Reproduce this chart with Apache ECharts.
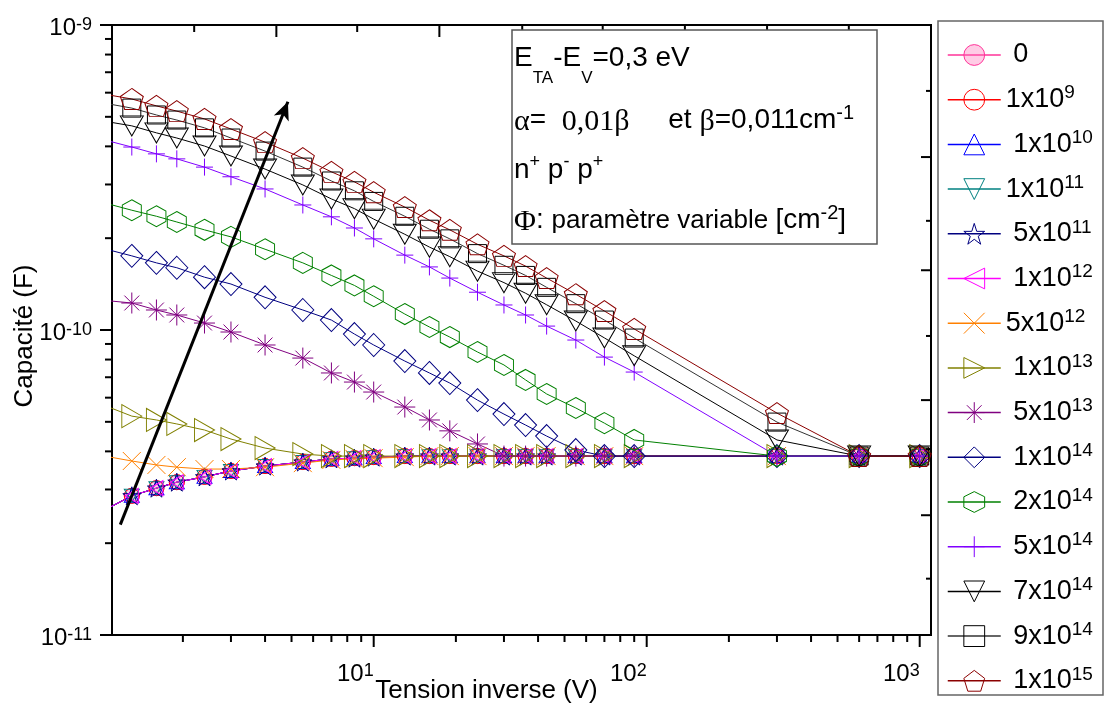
<!DOCTYPE html>
<html>
<head>
<meta charset="utf-8">
<script src="https://cdn.jsdelivr.net/npm/echarts@6.0.0/dist/echarts.min.js"></script>
<style>
html,body{margin:0;padding:0;background:#ffffff;}
#chart{width:1104px;height:707px;}
</style>
</head>
<body>
<div id="chart"></div>
<script>
// ---------------- data ----------------
// reverse voltage (V)
const voltages = [1, 1.3, 1.6, 1.9, 2.4, 3, 4, 5.5, 7, 8.5, 10, 13, 16, 19, 24, 30, 36, 43, 55, 70, 90, 300, 600, 1000];

// capacitance (F) for each fluence; low fluences (0 ... 1x10^12) overlap in the picture
const cLowFlux = [2.53e-11, 2.86e-11, 3.03e-11, 3.17e-11, 3.30e-11, 3.45e-11, 3.58e-11, 3.69e-11, 3.78e-11, 3.80e-11, 3.83e-11, 3.86e-11, 3.86e-11, 3.86e-11, 3.86e-11, 3.86e-11, 3.86e-11, 3.86e-11, 3.86e-11, 3.86e-11, 3.86e-11, 3.86e-11, 3.86e-11, 3.86e-11];
const c5e12 = [3.88e-11, 3.72e-11, 3.61e-11, 3.55e-11, 3.50e-11, 3.50e-11, 3.55e-11, 3.66e-11, 3.75e-11, 3.78e-11, 3.80e-11, 3.83e-11, 3.86e-11, 3.86e-11, 3.86e-11, 3.86e-11, 3.86e-11, 3.86e-11, 3.86e-11, 3.86e-11, 3.86e-11, 3.86e-11, 3.86e-11, 3.86e-11];
const c1e13 = [5.72e-11, 5.22e-11, 5.07e-11, 4.92e-11, 4.70e-11, 4.39e-11, 4.10e-11, 3.92e-11, 3.86e-11, 3.86e-11, 3.86e-11, 3.86e-11, 3.86e-11, 3.86e-11, 3.86e-11, 3.86e-11, 3.86e-11, 3.86e-11, 3.86e-11, 3.86e-11, 3.86e-11, 3.86e-11, 3.86e-11, 3.86e-11];
const c5e13 = [1.254e-10, 1.226e-10, 1.163e-10, 1.12e-10, 1.054e-10, 9.85e-11, 8.93e-11, 8.09e-11, 7.23e-11, 6.75e-11, 6.26e-11, 5.59e-11, 5.07e-11, 4.67e-11, 4.23e-11, 3.86e-11, 3.86e-11, 3.86e-11, 3.86e-11, 3.86e-11, 3.86e-11, 3.86e-11, 3.86e-11, 3.86e-11];
const c1e14 = [1.86e-10, 1.75e-10, 1.66e-10, 1.60e-10, 1.49e-10, 1.415e-10, 1.28e-10, 1.163e-10, 1.078e-10, 9.70e-11, 8.93e-11, 7.91e-11, 7.23e-11, 6.70e-11, 5.89e-11, 5.30e-11, 4.88e-11, 4.49e-11, 4.04e-11, 3.86e-11, 3.86e-11, 3.86e-11, 3.86e-11, 3.86e-11];
const c2e14 = [2.63e-10, 2.47e-10, 2.36e-10, 2.26e-10, 2.13e-10, 2.02e-10, 1.84e-10, 1.66e-10, 1.51e-10, 1.40e-10, 1.29e-10, 1.128e-10, 1.023e-10, 9.48e-11, 8.47e-11, 7.68e-11, 6.86e-11, 6.17e-11, 5.55e-11, 4.95e-11, 4.36e-11, 3.86e-11, 3.86e-11, 3.86e-11];
const c5e14 = [4.23e-10, 3.98e-10, 3.78e-10, 3.64e-10, 3.42e-10, 3.18e-10, 2.90e-10, 2.57e-10, 2.35e-10, 2.16e-10, 1.99e-10, 1.76e-10, 1.61e-10, 1.48e-10, 1.33e-10, 1.208e-10, 1.12e-10, 1.03e-10, 9.27e-11, 8.15e-11, 7.28e-11, 3.86e-11, 3.86e-11, 3.86e-11];
const c7e14 = [4.86e-10, 4.67e-10, 4.43e-10, 4.26e-10, 4.01e-10, 3.72e-10, 3.37e-10, 2.99e-10, 2.69e-10, 2.50e-10, 2.31e-10, 2.06e-10, 1.87e-10, 1.74e-10, 1.56e-10, 1.43e-10, 1.32e-10, 1.21e-10, 1.07e-10, 9.42e-11, 8.23e-11, 4.36e-11, 3.86e-11, 3.86e-11];
const c9e14 = [5.57e-10, 5.34e-10, 5.07e-10, 4.88e-10, 4.60e-10, 4.26e-10, 3.86e-10, 3.42e-10, 3.08e-10, 2.86e-10, 2.64e-10, 2.36e-10, 2.14e-10, 1.99e-10, 1.78e-10, 1.63e-10, 1.51e-10, 1.38e-10, 1.22e-10, 1.078e-10, 9.41e-11, 4.99e-11, 3.86e-11, 3.86e-11];
const c1e15 = [5.96e-10, 5.72e-10, 5.43e-10, 5.22e-10, 4.92e-10, 4.56e-10, 4.13e-10, 3.66e-10, 3.30e-10, 3.06e-10, 2.83e-10, 2.53e-10, 2.29e-10, 2.13e-10, 1.91e-10, 1.75e-10, 1.62e-10, 1.48e-10, 1.31e-10, 1.154e-10, 1.008e-10, 5.34e-11, 3.86e-11, 3.86e-11];

const seriesNames = ['0', '1x10^9', '1x10^10', '1x10^11', '5x10^11', '1x10^12', '5x10^12', '1x10^13', '5x10^13', '1x10^14', '2x10^14', '5x10^14', '7x10^14', '9x10^14', '1x10^15'];
const legendText  = [' 0', '1x10^9', ' 1x10^10', '1x10^11', ' 5x10^11', ' 1x10^12', '5x10^12', ' 1x10^13', ' 5x10^13', ' 1x10^14', ' 2x10^14', ' 5x10^14', ' 7x10^14', ' 9x10^14', ' 1x10^15'];
const seriesValues = [cLowFlux, cLowFlux, cLowFlux, cLowFlux, cLowFlux, cLowFlux, c5e12, c1e13, c5e13, c1e14, c2e14, c5e14, c7e14, c9e14, c1e15];

// axis ticks
const xMajorTicks = [10, 100, 1000];
const xMinorTicks = [2, 3, 4, 5, 6, 7, 8, 9, 20, 30, 40, 50, 60, 70, 80, 90, 200, 300, 400, 500, 600, 700, 800, 900];
const yMajorTicks = [1e-11, 1e-10, 1e-9];
const yMinorTicks = [2e-11, 3e-11, 4e-11, 5e-11, 6e-11, 7e-11, 8e-11, 9e-11, 2e-10, 3e-10, 4e-10, 5e-10, 6e-10, 7e-10, 8e-10, 9e-10];
const topTicks = [2.2, 4.4, 8.7, 17.4, 35, 69, 138, 276, 550];
const rightTicks = [6.08e-10, 3.69e-10, 2.28e-10, 1.57e-10, 9.56e-11, 5.89e-11, 4.07e-11, 2.47e-11, 1.53e-11];

// arrow annotation (data coordinates)
const arrowFrom = [1.18, 2.3e-11];
const arrowTo = [4.85, 5.6e-10];

// ---------------- styles ----------------
const FS = 'Liberation Sans, Arial, sans-serif';
const SERIF = 'Liberation Serif, Times New Roman, serif';
const SYM = {
  pentagon: 'path://M0,-1L0.951,-0.309L0.588,0.809L-0.588,0.809L-0.951,-0.309Z',
  hexagon: 'path://M0,-1L0.866,-0.5L0.866,0.5L0,1L-0.866,0.5L-0.866,-0.5Z',
  star: 'path://M0,-1L0.2245,-0.309L0.951,-0.309L0.363,0.118L0.588,0.809L0,0.382L-0.588,0.809L-0.363,0.118L-0.951,-0.309L-0.2245,-0.309Z',
  asterisk: 'path://M0,-1L0,1M-1,0L1,0M-0.707,-0.707L0.707,0.707M-0.707,0.707L0.707,-0.707',
  plus: 'path://M0,-1L0,1M-1,0L1,0',
  cross: 'path://M-1,-1L1,1M-1,1L1,-1',
  up: 'path://M0,-1L1,1L-1,1Z',
  down: 'path://M-1,-1L1,-1L0,1Z',
  left: 'path://M-1,0L1,-1L1,1Z',
  right: 'path://M1,0L-1,-1L-1,1Z'
};
const seriesStyles = [
  {color: '#FF3399', symbol: 'circle', size: 15, fill: 'rgba(255,110,180,0.35)'},
  {color: '#FF0000', symbol: 'circle', size: 15},
  {color: '#0000FF', symbol: SYM.up, size: [15, 13]},
  {color: '#008080', symbol: SYM.down, size: [15, 13]},
  {color: '#000080', symbol: SYM.star, size: 18},
  {color: '#FF00FF', symbol: SYM.left, size: [13, 15]},
  {color: '#FF8000', symbol: SYM.cross, size: 18},
  {color: '#808000', symbol: SYM.right, size: [20, 23]},
  {color: '#800080', symbol: SYM.asterisk, size: 21},
  {color: '#000080', symbol: 'diamond', size: [22, 23]},
  {color: '#008000', symbol: SYM.hexagon, size: [19, 21]},
  {color: '#8000FF', symbol: SYM.plus, size: 17},
  {color: '#000000', symbol: SYM.down, size: [23, 20]},
  {color: '#000000', line: '#333333', symbol: 'rect', size: 18},
  {color: '#8B0000', symbol: SYM.pentagon, size: [23, 21]}
];

function powLabel(v) {
  const e = Math.log10(v);
  const r = Math.round(e);
  if (Math.abs(e - r) > 1e-6) return '';
  return '{b|10}{s|' + r + '}';
}
const axisRich = {
  b: {fontSize: 24, lineHeight: 30, verticalAlign: 'top', fontFamily: FS, color: '#000'},
  s: {fontSize: 18, lineHeight: 12, verticalAlign: 'top', fontFamily: FS, color: '#000'}
};

const lineSeries = seriesNames.map(function (name, i) {
  const st = seriesStyles[i];
  return {
    name: name,
    type: 'line',
    data: voltages.map(function (v, k) { return [v, seriesValues[i][k]]; }),
    symbol: st.symbol,
    symbolSize: st.size,
    showSymbol: true,
    clip: true,
    silent: true,
    z: 3,
    lineStyle: {color: st.line || st.color, width: 1},
    itemStyle: {color: st.fill || 'transparent', borderColor: st.color, borderWidth: 1},
    emphasis: {disabled: true}
  };
});

lineSeries[lineSeries.length - 1].markLine = {
  silent: true,
  symbol: ['none', 'arrow'],
  symbolSize: [12, 18],
  label: {show: false},
  emphasis: {disabled: true},
  lineStyle: {color: '#000', width: 3, type: 'solid'},
  data: [[{coord: arrowFrom}, {coord: arrowTo}]]
};

// frame ticks: [x, y, side(0 bottom,1 left,2 top,3 right), length]
const tickData = [];
xMajorTicks.forEach(function (v) { tickData.push([v, 1e-11, 0, 12]); });
xMinorTicks.forEach(function (v) { tickData.push([v, 1e-11, 0, 7]); });
yMajorTicks.forEach(function (v) { tickData.push([1.1, v, 1, 12]); });
yMinorTicks.forEach(function (v) { tickData.push([1.1, v, 1, 7]); });
topTicks.forEach(function (v, i) { tickData.push([v, 1e-9, 2, i % 2 ? 12 : 7]); });
rightTicks.forEach(function (v, i) { tickData.push([1100, v, 3, i % 2 ? 10 : 5]); });

const tickSeries = {
  type: 'custom',
  name: 'ticks',
  silent: true,
  clip: false,
  z: 5,
  encode: {x: 0, y: 1},
  data: tickData,
  renderItem: function (params, api) {
    const p = api.coord([api.value(0), api.value(1)]);
    const side = api.value(2), len = api.value(3);
    let x2 = p[0], y2 = p[1];
    if (side === 0 || side === 2) y2 += len; else x2 -= len;
    return {type: 'line', shape: {x1: p[0], y1: p[1], x2: x2, y2: y2}, style: {stroke: '#000', lineWidth: 2}};
  }
};

const annRich = {
  b: {fontSize: 28, fontFamily: FS, lineHeight: 32, verticalAlign: 'top', padding: [3, 0, 0, 0]},
  sub: {fontSize: 17, fontFamily: FS, lineHeight: 14, verticalAlign: 'top', padding: [29, 0, 0, 0]},
  sup1: {fontSize: 20, fontFamily: FS, lineHeight: 10, verticalAlign: 'top'},
  sup3: {fontSize: 18, fontFamily: FS, lineHeight: 8, verticalAlign: 'top'},
  sup4: {fontSize: 20, fontFamily: FS, lineHeight: 6, verticalAlign: 'top'},
  g: {fontSize: 30, fontFamily: SERIF, lineHeight: 30, verticalAlign: 'top', padding: [4, 0, 0, 0]},
  sm: {fontSize: 26, fontFamily: FS, lineHeight: 30, verticalAlign: 'top', padding: [5, 0, 0, 0]}
};
function annText(y, text) {
  return {type: 'text', x: 514, y: y, z: 101, style: {text: text, rich: annRich, fill: '#000', verticalAlign: 'top', align: 'left'}};
}

const option = {
  animation: false,
  backgroundColor: '#ffffff',
  textStyle: {fontFamily: FS},
  grid: {left: 112, top: 25, right: 173, bottom: 72, show: true, borderColor: '#000', borderWidth: 2,
    backgroundColor: 'transparent', containLabel: false, outerBoundsMode: 'none'},
  xAxis: {
    type: 'log', logBase: 10, min: 1.1, max: 1100,
    axisLine: {show: false}, axisTick: {show: false}, splitLine: {show: false}, minorTick: {show: false},
    axisLabel: {formatter: powLabel, align: 'right', margin: 27, rich: axisRich, color: '#000',
      fontSize: 24, lineHeight: 30, fontFamily: FS},
    name: 'Tension inverse (V)', nameLocation: 'middle', nameGap: 43, nameMoveOverlap: false,
    nameTextStyle: {fontSize: 26, color: '#000', fontFamily: FS, padding: [0, 70, 0, 0]}
  },
  yAxis: {
    type: 'log', logBase: 10, min: 1e-11, max: 1e-9,
    axisLine: {show: false}, axisTick: {show: false}, splitLine: {show: false}, minorTick: {show: false},
    axisLabel: {formatter: powLabel, margin: 20, padding: [12, 0, 0, 0], rich: axisRich, color: '#000',
      fontSize: 24, lineHeight: 30, fontFamily: FS},
    name: 'Capacité (F)', nameLocation: 'middle', nameGap: 74, nameRotate: 90, nameMoveOverlap: false,
    nameTextStyle: {fontSize: 26, color: '#000', fontFamily: FS, padding: [0, 12, 0, 0]}
  },
  legend: {
    data: seriesNames, orient: 'vertical', left: 947, top: 39, padding: 0,
    itemGap: 12.7, itemWidth: 53, itemHeight: 26, selectedMode: false,
    formatter: function (name) { return legendText[seriesNames.indexOf(name)].replace(/\^(\d+)/, '{s|$1}'); },
    textStyle: {fontSize: 27, lineHeight: 32, color: '#000', fontFamily: FS,
      rich: {s: {fontSize: 19, lineHeight: 9, verticalAlign: 'top', fontFamily: FS, color: '#000'}}},
    itemStyle: {borderWidth: 1},
    lineStyle: {width: 1.5}
  },
  graphic: [
    {type: 'rect', z: 100, shape: {x: 512, y: 30, width: 365, height: 214}, style: {fill: '#fff', stroke: '#555', lineWidth: 1.5}},
    annText(41, '{b|E}{sub|TA}{b|-E}{sub|V}{b|=0,3 eV}'),
    annText(103, '{g|α}{b|=  }{g|0,01β}{b|     et }{g|β}{b|=0,011cm}{sup1|-1}'),
    annText(153, '{b|n}{sup3|+}{b| p}{sup3|-}{b| p}{sup3|+}'),
    annText(203, '{g|Φ}{b|: }{sm|paramètre variable }{b|[cm}{sup4|-2}{b|]}'),
    {type: 'rect', z: 100, shape: {x: 938, y: 21, width: 165, height: 674}, style: {fill: 'none', stroke: '#666', lineWidth: 1.5}}
  ],
  series: lineSeries.concat([tickSeries])
};

const chart = echarts.init(document.getElementById('chart'), null, {renderer: 'canvas'});
chart.setOption(option);
</script>
</body>
</html>
